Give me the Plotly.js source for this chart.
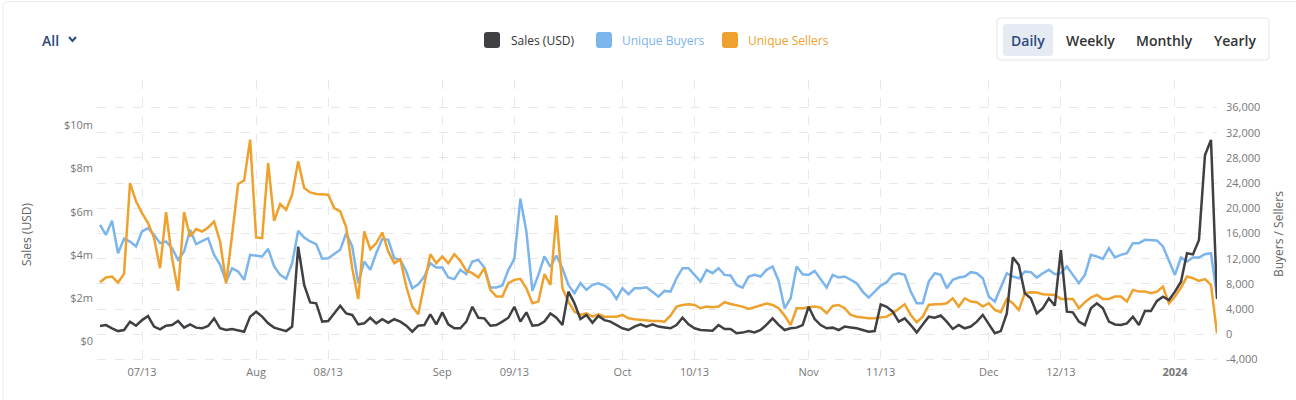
<!DOCTYPE html>
<html><head><meta charset="utf-8">
<script src="https://cdn.plot.ly/plotly-3.0.1.min.js"></script>
<style>html,body{margin:0;padding:0;background:#fff;}#chart{width:1296px;height:400px;}</style>
</head><body><div id="chart"></div>
<script>
// ---------- DATA ----------
const startDate = [2023, 6, 6]; // 2023-07-06, one value per day
const salesUSDm = [0.70,0.74,0.59,0.46,0.51,0.90,0.71,0.97,1.16,0.67,
0.54,0.71,0.74,0.93,0.62,0.77,0.62,0.59,0.70,1.05,
0.59,0.51,0.56,0.51,0.43,1.13,1.36,1.13,0.82,0.62,
0.54,0.46,0.67,4.38,2.60,1.79,1.75,0.90,0.93,1.28,
1.64,1.28,1.21,0.77,0.82,1.08,0.82,1.01,0.85,1.01,
0.90,0.71,0.43,0.71,0.74,1.24,0.77,1.33,0.77,0.59,
0.59,0.90,1.59,1.08,1.05,0.71,0.74,0.90,1.08,1.59,
0.90,1.33,0.71,0.74,0.90,1.28,1.08,0.74,2.29,1.75,
1.02,1.21,0.85,1.16,0.97,0.90,0.74,0.59,0.51,0.67,
0.77,0.67,0.77,0.67,0.63,0.59,0.74,1.08,0.77,0.59,
0.51,0.48,0.48,0.74,0.56,0.56,0.36,0.39,0.46,0.40,
0.51,0.76,1.05,0.75,0.51,0.59,0.62,0.74,1.59,1.02,
0.74,0.59,0.62,0.51,0.67,0.63,0.59,0.51,0.43,0.46,
1.70,1.59,1.36,0.90,1.05,0.74,0.40,0.77,1.13,1.08,
1.18,0.90,0.56,0.74,0.59,0.67,0.90,1.21,0.77,0.36,
0.46,1.28,3.88,3.53,2.21,1.98,1.28,1.52,1.98,1.64,
4.22,1.36,1.33,0.90,0.74,1.52,1.75,1.52,0.90,0.77,
0.74,0.82,1.13,0.74,1.39,1.39,1.86,2.06,1.90,2.29,
2.75,4.07,4.02,4.69,8.63,9.33,1.95];
const uniqueBuyers = [17380,15790,18020,12880,15160,14730,13940,16320,16850,15790,
14470,14730,13670,11820,13140,16590,14310,14730,15260,12610,
11020,8370,10490,9960,8640,12610,12510,12350,13570,10760,
9430,8800,11290,16430,15370,14730,14310,12000,12080,12720,
13410,16060,13940,8110,11550,10230,12880,15160,15000,12080,
11820,9960,7310,7950,9170,11290,10600,10600,9010,8750,
10230,9540,11550,11820,10600,7420,7420,7740,10230,11980,
21520,16320,6890,9430,12350,10700,12510,10490,7840,6520,
8110,7050,7840,8110,7740,7050,5620,7310,6360,7310,
7310,7470,6780,5990,6890,6780,8900,10490,10490,9430,
8370,10230,9700,10490,9430,9330,7840,7420,9170,9430,
9170,10230,10760,8500,4130,5720,10760,9540,9430,10070,
8640,7420,9430,9010,9170,8640,8110,6780,5830,6780,
7740,8270,9430,9700,9430,6780,4930,4930,8370,9700,
9430,7310,8640,9010,9170,9860,9700,8900,5990,5190,
7500,9700,9170,8900,9960,9860,9010,9700,10230,9540,
9700,10760,9430,8110,9430,12610,12350,11980,13670,12190,
12610,12880,14470,14470,15000,15000,14890,13940,11820,9430,
12190,11550,12190,12190,12720,12880,6000];
const uniqueSellers = [8268,9010,9170,8215,9593,24009,21100,19240,17650,15260,
10500,19400,12084,6890,19400,15530,16700,16320,16960,17900,
14730,8100,15800,23850,24400,30900,15370,15260,27190,18020,
20670,19770,22150,27450,23210,22520,22260,22260,22150,20030,
19500,17000,10500,5600,16320,13500,14470,16160,13140,11290,
11900,7580,4400,3180,7840,12720,11290,12350,11290,12720,
11660,10070,9700,9010,10500,7050,5990,5990,8110,8640,
8800,7310,4930,5190,9540,7840,18870,7310,5190,3600,
3070,3340,2800,3180,2800,2800,2800,3070,2540,2390,
2280,2170,2120,2120,2000,2970,4400,4660,4770,4660,
4130,4400,4290,4400,5090,4820,4660,4400,4030,4290,
4560,4880,4660,4130,2970,1480,4130,4130,4290,4400,
4240,3340,4500,4660,4130,3070,2800,2650,2540,2540,
2650,2800,3340,4130,4770,3070,1910,2800,4660,4770,
4770,4930,5720,4400,5720,5190,5090,4400,4930,3870,
3500,5620,4930,3870,6520,6680,6630,6360,6360,6250,
5620,5570,5620,4130,5090,5830,6250,5620,5620,5990,
5990,5190,7050,6780,6780,6520,6780,7580,4930,5990,
7420,9170,8900,8480,8750,7840,160];
const xTickVals = ['2023-07-13','2023-08-01','2023-08-13','2023-09-01','2023-09-13','2023-10-01','2023-10-13','2023-11-01','2023-11-13','2023-12-01','2023-12-13','2024-01-01'];
const xTickText = ['07/13','Aug','08/13','Sep','09/13','Oct','10/13','Nov','11/13','Dec','12/13','<b>2024</b>'];
const salesTickVals = [0,2,4,6,8,10];
const salesTickText = ['$0','$2m','$4m','$6m','$8m','$10m'];
const countTickVals = [-4000,0,4000,8000,12000,16000,20000,24000,28000,32000,36000];
const countTickText = ['-4,000','0','4,000','8,000','12,000','16,000','20,000','24,000','28,000','32,000','36,000'];
const seriesNames = ['Sales (USD)','Unique Buyers','Unique Sellers'];
const rangeButtons = ['Daily','Weekly','Monthly','Yearly'];

// ---------- build ----------
const dates = salesUSDm.map((_, i) => {
  const d = new Date(Date.UTC(startDate[0], startDate[1], startDate[2] + i));
  return d.toISOString().slice(0, 10);
});

const C_SALES = '#404044', C_BUY = '#7cb5ec', C_SELL = '#eea12c';
const W=1296, H=400, L=97, R=79, T=80, B=38;
const pw = W-L-R, ph = H-T-B;
const px = x => (x-L)/pw, py = y => (H-B-y)/ph;
function rr(x0,y0,x1,y1,r){
  const P=(x,y)=>px(x).toFixed(5)+','+py(y).toFixed(5);
  return 'M'+P(x0+r,y0)+' L'+P(x1-r,y0)+' Q'+P(x1,y0)+' '+P(x1,y0+r)+' L'+P(x1,y1-r)+' Q'+P(x1,y1)+' '+P(x1-r,y1)+
    ' L'+P(x0+r,y1)+' Q'+P(x0,y1)+' '+P(x0,y1-r)+' L'+P(x0,y0+r)+' Q'+P(x0,y0)+' '+P(x0+r,y0)+' Z';
}

const traces = [
  {x: dates, y: uniqueBuyers, name: seriesNames[1], type:'scatter', mode:'lines', yaxis:'y',
   line:{color:C_BUY, width:2.5}},
  {x: dates, y: uniqueSellers, name: seriesNames[2], type:'scatter', mode:'lines', yaxis:'y',
   line:{color:C_SELL, width:2.5}},
  {x: dates, y: salesUSDm, name: seriesNames[0], type:'scatter', mode:'lines', yaxis:'y2',
   line:{color:C_SALES, width:2.5}}
];

const shapes = [
  // card outline
  {type:'path', xref:'paper', yref:'paper', path: rr(3,1.5,1310,420,6), fillcolor:'rgba(0,0,0,0)', line:{color:'#ececec', width:1}, layer:'below'},
  // legend swatches
  {type:'path', xref:'paper', yref:'paper', path: rr(484,32,500,48,3), fillcolor:C_SALES, line:{width:0}},
  {type:'path', xref:'paper', yref:'paper', path: rr(596,32,612,48,3), fillcolor:C_BUY, line:{width:0}},
  {type:'path', xref:'paper', yref:'paper', path: rr(722,32,738,48,3), fillcolor:C_SELL, line:{width:0}},
  // button group
  {type:'path', xref:'paper', yref:'paper', path: rr(997,18,1269,60,4), fillcolor:'#ffffff', line:{color:'#e2e4e8', width:1}},
  {type:'path', xref:'paper', yref:'paper', path: rr(1003,24,1053,56,3), fillcolor:'#e6ebf3', line:{width:0}},
  // chevron
  {type:'path', xref:'paper', yref:'paper',
   path: 'M'+px(69)+','+py(37)+' L'+px(72.5)+','+py(41)+' L'+px(76)+','+py(37),
   line:{color:'#2b4a80', width:2}}
];

const ann = [];
function addText(text, x, y, color, size, anchor, weight){
  ann.push({text, x:px(x), y:py(y), xref:'paper', yref:'paper', xanchor:anchor, yanchor:'middle',
    showarrow:false, font:{family:'Open Sans', size, color, weight: weight||400}});
}
addText(seriesNames[0], 509, 40, '#333333', 12, 'left');
addText(seriesNames[1], 620, 40, C_BUY, 12, 'left');
addText(seriesNames[2], 746, 40, C_SELL, 12, 'left');
addText('All', 40, 40, '#2b4a80', 14, 'left', 600);
const btnX = [1028, 1090, 1164, 1235];
rangeButtons.forEach((b,i)=> addText(b, btnX[i], 40, i===0 ? '#2b4a80' : '#333333', 14, 'center', 600));
ann.push({text:'Sales (USD)', x:px(26), y:py(235), xref:'paper', yref:'paper', textangle:-90,
  showarrow:false, xanchor:'center', yanchor:'middle', font:{family:'Open Sans', size:12, color:'#666666'}});
ann.push({text:'Buyers / Sellers', x:px(1278), y:py(234), xref:'paper', yref:'paper', textangle:-90,
  showarrow:false, xanchor:'center', yanchor:'middle', font:{family:'Open Sans', size:12, color:'#666666'}});

const tickFont = {family:'Open Sans', size:11, color:'#777777'};
const layout = {
  width:W, height:H, margin:{l:L, r:R, t:T, b:B},
  paper_bgcolor:'#ffffff', plot_bgcolor:'#ffffff',
  showlegend:false, hovermode:false,
  font:{family:'Open Sans'},
  xaxis:{type:'date', range:['2023-07-05 12:00','2024-01-08'], tickvals:xTickVals, ticktext:xTickText,
    showgrid:true, gridcolor:'#e8e8e8', griddash:'dash', gridwidth:1, zeroline:false, showline:false,
    ticks:'', tickfont:tickFont, ticklabelstandoff:2, fixedrange:true},
  yaxis:{side:'right', range:[-4397, 40365], tickvals:countTickVals, ticktext:countTickText,
    showgrid:true, gridcolor:'#e8e8e8', griddash:'dash', gridwidth:1, zeroline:false, showline:false,
    ticks:'', tickfont:tickFont, ticklabelstandoff:8, fixedrange:true},
  yaxis2:{side:'left', overlaying:'y', range:[-0.974, 12.11], tickvals:salesTickVals, ticktext:salesTickText,
    showgrid:false, zeroline:false, showline:false, ticks:'', tickfont:tickFont, ticklabelstandoff:3, fixedrange:true},
  shapes, annotations: ann
};
Plotly.newPlot('chart', traces, layout, {staticPlot:true, displayModeBar:false});
</script></body></html>
